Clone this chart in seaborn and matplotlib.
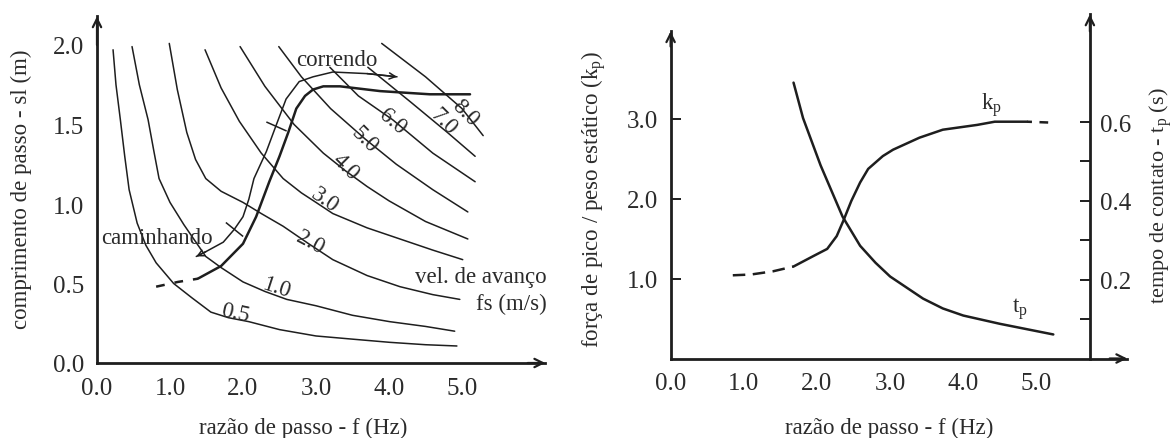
import matplotlib
matplotlib.use('Agg')
import matplotlib.pyplot as plt
import seaborn as sns

# ---- left panel: stride length vs step rate, iso-speed curves (m/s) ----
v05_f = [0.22, 0.26, 0.32, 0.38, 0.44, 0.55, 0.67, 0.81, 1.05, 1.30, 1.56, 1.80, 2.08, 2.50, 3.00, 3.50, 4.01, 4.50, 4.93]
v05_sl = [1.97, 1.75, 1.53, 1.30, 1.09, 0.88, 0.74, 0.63, 0.50, 0.41, 0.32, 0.285, 0.26, 0.21, 0.17, 0.15, 0.13, 0.115, 0.107]
v10_f = [0.48, 0.58, 0.70, 0.78, 0.85, 1.00, 1.19, 1.49, 1.70, 2.00, 2.30, 2.60, 3.00, 3.50, 4.01, 4.50, 4.90]
v10_sl = [1.99, 1.75, 1.53, 1.33, 1.16, 1.01, 0.87, 0.67, 0.60, 0.51, 0.45, 0.40, 0.36, 0.30, 0.26, 0.23, 0.20]
v20_f = [0.99, 1.10, 1.23, 1.35, 1.49, 1.70, 2.00, 2.25, 2.55, 2.90, 3.23, 3.70, 4.15, 4.60, 4.97]
v20_sl = [2.01, 1.72, 1.45, 1.28, 1.16, 1.08, 1.01, 0.94, 0.86, 0.75, 0.65, 0.55, 0.48, 0.43, 0.40]
v30_f = [1.48, 1.70, 1.95, 2.25, 2.55, 2.80, 3.00, 3.23, 3.70, 4.15, 4.60, 5.01]
v30_sl = [1.97, 1.73, 1.52, 1.32, 1.16, 1.07, 1.01, 0.94, 0.85, 0.78, 0.71, 0.65]
v40_f = [1.96, 2.30, 2.70, 3.10, 3.40, 3.70, 4.00, 4.50, 5.08]
v40_sl = [1.99, 1.74, 1.50, 1.32, 1.21, 1.11, 1.02, 0.89, 0.78]
v50_f = [2.49, 2.80, 3.20, 3.67, 4.10, 4.60, 5.08]
v50_sl = [1.99, 1.80, 1.60, 1.41, 1.25, 1.09, 0.95]
v60_f = [3.19, 3.58, 4.05, 4.60, 5.18]
v60_sl = [1.86, 1.68, 1.53, 1.32, 1.14]
v70_f = [3.71, 4.30, 4.80, 5.18]
v70_sl = [1.86, 1.64, 1.45, 1.30]
v80_f = [3.90, 4.50, 5.00, 5.29]
v80_sl = [2.01, 1.80, 1.60, 1.43]

speed_labels = ['0.5', '1.0', '2.0', '3.0', '4.0', '5.0', '6.0', '7.0', '8.0']
label_f = [1.90, 2.45, 2.92, 3.12, 3.40, 3.67, 4.05, 4.74, 5.04]
label_sl = [0.32, 0.48, 0.76, 1.03, 1.24, 1.41, 1.52, 1.52, 1.58]
label_rot = [-12, -18, -28, -35, -45, -45, -40, -45, -45]

# walking -> running path (thin, arrows at both ends)
path_f = [1.36, 1.49, 1.73, 1.88, 2.00, 2.08, 2.15, 2.32, 2.45, 2.59, 2.77, 2.96, 3.23, 3.70, 4.11]
path_sl = [0.67, 0.70, 0.76, 0.84, 0.92, 1.03, 1.16, 1.33, 1.49, 1.66, 1.77, 1.80, 1.83, 1.82, 1.80]
cross_f = [1.88, 2.45]
cross_sl = [0.84, 1.49]
cross_ang = [51, 66]

# transition curve (thick, dashed at low f)
trans_f = [0.81, 1.11, 1.38, 1.70, 2.00, 2.18, 2.36, 2.50, 2.62, 2.73, 2.85, 2.96, 3.10, 3.33, 3.88, 4.56, 5.11]
trans_sl = [0.48, 0.51, 0.53, 0.61, 0.75, 0.92, 1.14, 1.30, 1.45, 1.60, 1.68, 1.72, 1.74, 1.74, 1.71, 1.69, 1.69]
trans_dash_end = 2

# ---- right panel: peak force factor kp and contact time tp ----
kp_f = [0.85, 1.10, 1.40, 1.68, 1.95, 2.14, 2.27, 2.36, 2.47, 2.59, 2.70, 2.90, 3.04, 3.40, 3.72, 4.19, 4.43, 4.87, 5.16]
kp_v = [1.04, 1.05, 1.09, 1.15, 1.28, 1.37, 1.53, 1.72, 1.97, 2.20, 2.37, 2.53, 2.61, 2.76, 2.86, 2.92, 2.96, 2.96, 2.95]
kp_solid = (3, 17)
tp_f = [1.68, 1.81, 2.05, 2.35, 2.59, 2.80, 3.00, 3.45, 3.72, 4.00, 4.50, 5.23]
tp_t = [0.70, 0.61, 0.49, 0.36, 0.286, 0.243, 0.208, 0.152, 0.127, 0.109, 0.088, 0.061]

sns.set_style('white')
plt.rcParams['font.family'] = ['Liberation Serif', 'DejaVu Serif']
plt.rcParams['mathtext.fontset'] = 'custom'
plt.rcParams['mathtext.rm'] = 'Liberation Serif'
plt.rcParams['mathtext.it'] = 'Liberation Serif:italic'

INK = '#1e1e1e'
TXT = '#2b2b2b'
TICK_FS = 18
FS = 16.5
W, H = 1172, 439

fig = plt.figure(figsize=(W / 100, H / 100), dpi=100)

# left axes
ax1 = fig.add_axes([97 / W, 75 / H, 452.6 / W, 349.8 / H])
ax1.set_xlim(0, 6.2)
ax1.set_ylim(0, 2.2)

curves = [(v05_f, v05_sl), (v10_f, v10_sl), (v20_f, v20_sl), (v30_f, v30_sl),
          (v40_f, v40_sl), (v50_f, v50_sl), (v60_f, v60_sl), (v70_f, v70_sl),
          (v80_f, v80_sl)]
for cf, cs in curves:
    sns.lineplot(x=cf, y=cs, ax=ax1, sort=False, estimator=None, color=INK, lw=1.1)

for txt, lf, ls, rot in zip(speed_labels, label_f, label_sl, label_rot):
    ax1.text(lf, ls, txt, rotation=rot, ha='center', va='center', fontsize=FS, color=TXT)

d = trans_dash_end
sns.lineplot(x=trans_f[:d + 1], y=trans_sl[:d + 1], ax=ax1, sort=False, estimator=None,
             color=INK, lw=1.8, linestyle=(0, (3.5, 4)))
sns.lineplot(x=trans_f[d:], y=trans_sl[d:], ax=ax1, sort=False, estimator=None,
             color=INK, lw=1.8)

sns.lineplot(x=path_f, y=path_sl, ax=ax1, sort=False, estimator=None, color=INK, lw=1.1)
ax1.annotate('', xy=(path_f[0], path_sl[0]), xytext=(path_f[1], path_sl[1]),
             arrowprops=dict(arrowstyle='->', color=INK, lw=1.1, mutation_scale=11,
                             shrinkA=0, shrinkB=0))
ax1.annotate('', xy=(path_f[-1], path_sl[-1]), xytext=(path_f[-2], path_sl[-2]),
             arrowprops=dict(arrowstyle='->', color=INK, lw=1.1, mutation_scale=11,
                             shrinkA=0, shrinkB=0))
for cf, cs, ang in zip(cross_f, cross_sl, cross_ang):
    ax1.plot(cf, cs, marker=(2, 0, ang), markersize=16, color=INK, mew=1.1)

ax1.text(3.29, 1.91, 'correndo', ha='center', va='center', fontsize=FS, color=TXT)
ax1.text(0.82, 0.79, 'caminhando', ha='center', va='center', fontsize=FS, color=TXT)
ax1.text(6.16, 0.545, 'vel. de avanço', ha='right', va='center', fontsize=FS, color=TXT)
ax1.text(6.16, 0.375, 'fs (m/s)', ha='right', va='center', fontsize=FS, color=TXT)

ax1.set_xticks([0, 1, 2, 3, 4, 5])
ax1.set_xticklabels(['0.0', '1.0', '2.0', '3.0', '4.0', '5.0'])
ax1.set_yticks([0, 0.5, 1.0, 1.5, 2.0])
ax1.set_yticklabels(['0.0', '0.5', '1.0', '1.5', '2.0'])
ax1.set_xlabel('razão de passo - f (Hz)', fontsize=FS, color=TXT)
ax1.set_ylabel('comprimento de passo - sl (m)', fontsize=FS, color=TXT)
ax1.xaxis.set_label_coords(0.455, -0.155)
ax1.yaxis.set_label_coords(-0.143, 0.5)
ax1.spines['left'].set_bounds(0, 2.18)
ax1.spines['bottom'].set_bounds(0, 6.14)
arrow_tips1 = [((0, 2.18), (0, 2.0)), ((6.14, 0), (5.9, 0))]

# right axes
ax2 = fig.add_axes([670.6 / W, 79.5 / H, 461 / W, 348 / H])
ax2.set_xlim(0, 6.3)
ax2.set_ylim(0, 4.35)
ax3 = ax2.twinx()
ax3.set_ylim(0, 0.883)

a, b = kp_solid
sns.lineplot(x=kp_f[:a + 1], y=kp_v[:a + 1], ax=ax2, sort=False, estimator=None,
             color=INK, lw=1.8, linestyle=(0, (5, 3)))
sns.lineplot(x=kp_f[a:b + 1], y=kp_v[a:b + 1], ax=ax2, sort=False, estimator=None,
             color=INK, lw=1.8)
sns.lineplot(x=kp_f[b:], y=kp_v[b:], ax=ax2, sort=False, estimator=None,
             color=INK, lw=1.8, linestyle=(3, (5, 3)))
sns.lineplot(x=tp_f, y=tp_t, ax=ax3, sort=False, estimator=None, color=INK, lw=1.8)

ax2.text(4.39, 3.18, r'k$_\mathrm{p}$', ha='center', va='center', fontsize=FS, color=TXT)
ax3.text(4.77, 0.127, r't$_\mathrm{p}$', ha='center', va='center', fontsize=FS, color=TXT)

ax2.set_xticks([0, 1, 2, 3, 4, 5])
ax2.set_xticklabels(['0.0', '1.0', '2.0', '3.0', '4.0', '5.0'])
ax2.set_yticks([1, 2, 3])
ax2.set_yticklabels(['1.0', '2.0', '3.0'])
ax3.set_yticks([0.1, 0.2, 0.3, 0.4, 0.5, 0.6])
ax3.set_yticklabels(['', '0.2', '', '0.4', '', '0.6'])
ax2.set_xlabel('razão de passo - f (Hz)', fontsize=FS, color=TXT)
ax2.set_ylabel(r'força de pico / peso estático (k$_\mathrm{p}$)', fontsize=FS, color=TXT)
ax3.set_ylabel(r'tempo de contato - t$_\mathrm{p}$ (s)', fontsize=16, color=TXT)
ax2.xaxis.set_label_coords(0.474, -0.168)
ax2.yaxis.set_label_coords(-0.135, 0.46)
ax3.yaxis.set_label_coords(1.034, 0.47)
ax2.spines['left'].set_bounds(0, 4.09)
ax2.spines['bottom'].set_bounds(0, 6.24)
ax3.spines['right'].set_position(('data', 5.73))
ax3.spines['right'].set_bounds(0, 0.873)
for s in ['left', 'bottom', 'top']:
    ax3.spines[s].set_visible(False)
arrow_tips2 = [((0, 4.09), (0, 3.9)), ((6.24, 0), (6.0, 0))]

for ax in (ax1, ax2, ax3):
    ax.set_facecolor('none')
    ax.grid(False)
    for s in ax.spines.values():
        s.set_color(INK)
        s.set_linewidth(2.0)
    ax.tick_params(direction='in', length=7, width=1.4, colors=INK, labelcolor=TXT,
                   labelsize=TICK_FS)
for ax in (ax1, ax2):
    ax.spines['top'].set_visible(False)
    ax.spines['right'].set_visible(False)
    ax.tick_params(axis='x', pad=10)
    ax.tick_params(axis='y', pad=9)
ax3.tick_params(axis='y', pad=7)

for ax, tips in ((ax1, arrow_tips1), (ax2, arrow_tips2)):
    for tip, tail in tips:
        ax.annotate('', xy=tip, xytext=tail, annotation_clip=False,
                    arrowprops=dict(arrowstyle='->', color=INK, lw=1.6, mutation_scale=15,
                                    shrinkA=0, shrinkB=0))
ax3.annotate('', xy=(5.73, 0.873), xytext=(5.73, 0.83), annotation_clip=False,
             arrowprops=dict(arrowstyle='->', color=INK, lw=1.6, mutation_scale=15,
                             shrinkA=0, shrinkB=0))

fig.savefig('out.png', dpi=100, facecolor='white')
